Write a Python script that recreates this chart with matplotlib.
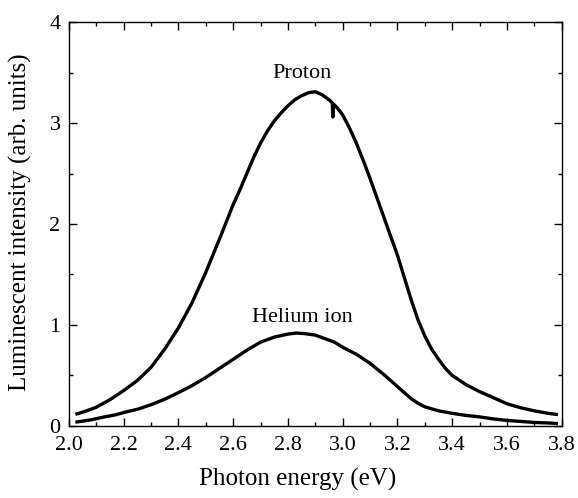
import numpy as np
import matplotlib
matplotlib.use("Agg")
import matplotlib.pyplot as plt
from matplotlib.ticker import MultipleLocator

plt.rcParams['font.family'] = ['Liberation Serif', 'DejaVu Serif']

# Proton curve (photon energy in eV, intensity in arb. units)
proton_e = [2.03, 2.06, 2.10, 2.15, 2.20, 2.25, 2.30, 2.35, 2.40, 2.45,
            2.50, 2.55, 2.60, 2.625, 2.65, 2.675, 2.70, 2.725, 2.75, 2.775,
            2.80, 2.825, 2.85, 2.875, 2.90, 2.925, 2.95, 2.962, 2.964, 2.966,
            2.98, 3.00, 3.025, 3.05, 3.075, 3.10, 3.125, 3.15, 3.175, 3.20,
            3.225, 3.25, 3.275, 3.30, 3.325, 3.35, 3.375, 3.40, 3.45, 3.50,
            3.55, 3.60, 3.65, 3.70, 3.75, 3.78]
proton_i = [0.12, 0.145, 0.185, 0.26, 0.35, 0.45, 0.58, 0.76, 0.97, 1.22,
            1.52, 1.85, 2.19, 2.34, 2.50, 2.66, 2.80, 2.92, 3.02, 3.10,
            3.17, 3.23, 3.27, 3.30, 3.31, 3.28, 3.23, 3.20, 3.06, 3.19,
            3.15, 3.08, 2.95, 2.80, 2.63, 2.45, 2.26, 2.07, 1.88, 1.69,
            1.47, 1.25, 1.05, 0.89, 0.76, 0.66, 0.57, 0.50, 0.41, 0.34,
            0.28, 0.22, 0.18, 0.15, 0.125, 0.115]

# Helium ion curve
helium_e = [2.03, 2.08, 2.13, 2.17, 2.21, 2.25, 2.30, 2.35, 2.40, 2.45,
            2.50, 2.55, 2.60, 2.65, 2.70, 2.75, 2.80, 2.83, 2.86, 2.90,
            2.94, 2.97, 3.00, 3.05, 3.10, 3.15, 3.20, 3.225, 3.25, 3.275,
            3.30, 3.35, 3.40, 3.45, 3.50, 3.55, 3.60, 3.65, 3.70, 3.75,
            3.78]
helium_i = [0.04, 0.06, 0.09, 0.11, 0.14, 0.165, 0.21, 0.265, 0.33, 0.40,
            0.48, 0.57, 0.66, 0.75, 0.83, 0.88, 0.91, 0.92, 0.915, 0.90,
            0.86, 0.83, 0.78, 0.71, 0.62, 0.51, 0.39, 0.33, 0.27, 0.225,
            0.19, 0.15, 0.125, 0.105, 0.09, 0.07, 0.055, 0.045, 0.035, 0.03,
            0.025]

fig = plt.figure(figsize=(5.78, 4.98), dpi=100)
ax = fig.add_axes([0.119, 0.1446, 0.853, 0.8112])

ax.plot(proton_e, proton_i, color="black", lw=2.4, solid_joinstyle="round")
ax.plot(helium_e, helium_i, color="black", lw=2.4, solid_joinstyle="round")

ax.text(2.85, 3.49, "Proton", ha="center", va="center", fontsize=16)
ax.text(2.852, 1.076, "Helium ion", ha="center", va="center", fontsize=16)

ax.set_xlim(2.0, 3.8)
ax.set_ylim(0, 4)
ax.xaxis.set_major_locator(MultipleLocator(0.2))
ax.xaxis.set_minor_locator(MultipleLocator(0.1))
ax.yaxis.set_major_locator(MultipleLocator(1))
ax.yaxis.set_minor_locator(MultipleLocator(0.5))
ax.set_xticks(np.arange(2.0, 3.81, 0.2))
ax.set_xticklabels(["%.1f" % v for v in np.arange(2.0, 3.81, 0.2)])

ax.tick_params(which="both", direction="in", top=True, right=True,
               labelsize=16, width=1.0, color="black")
ax.tick_params(which="major", length=6)
ax.tick_params(which="minor", length=3)
ax.tick_params(axis="x", pad=7)
ax.tick_params(axis="y", pad=6)
for s in ax.spines.values():
    s.set_linewidth(1.0)

ax.set_xlabel("Photon energy (eV)", fontsize=18)
ax.xaxis.set_label_coords(0.464, -0.104)
ax.set_ylabel("Luminescent intensity (arb. units)", fontsize=18)
ax.yaxis.set_label_coords(-0.075, 0.505)

fig.savefig("out.png", dpi=100)
